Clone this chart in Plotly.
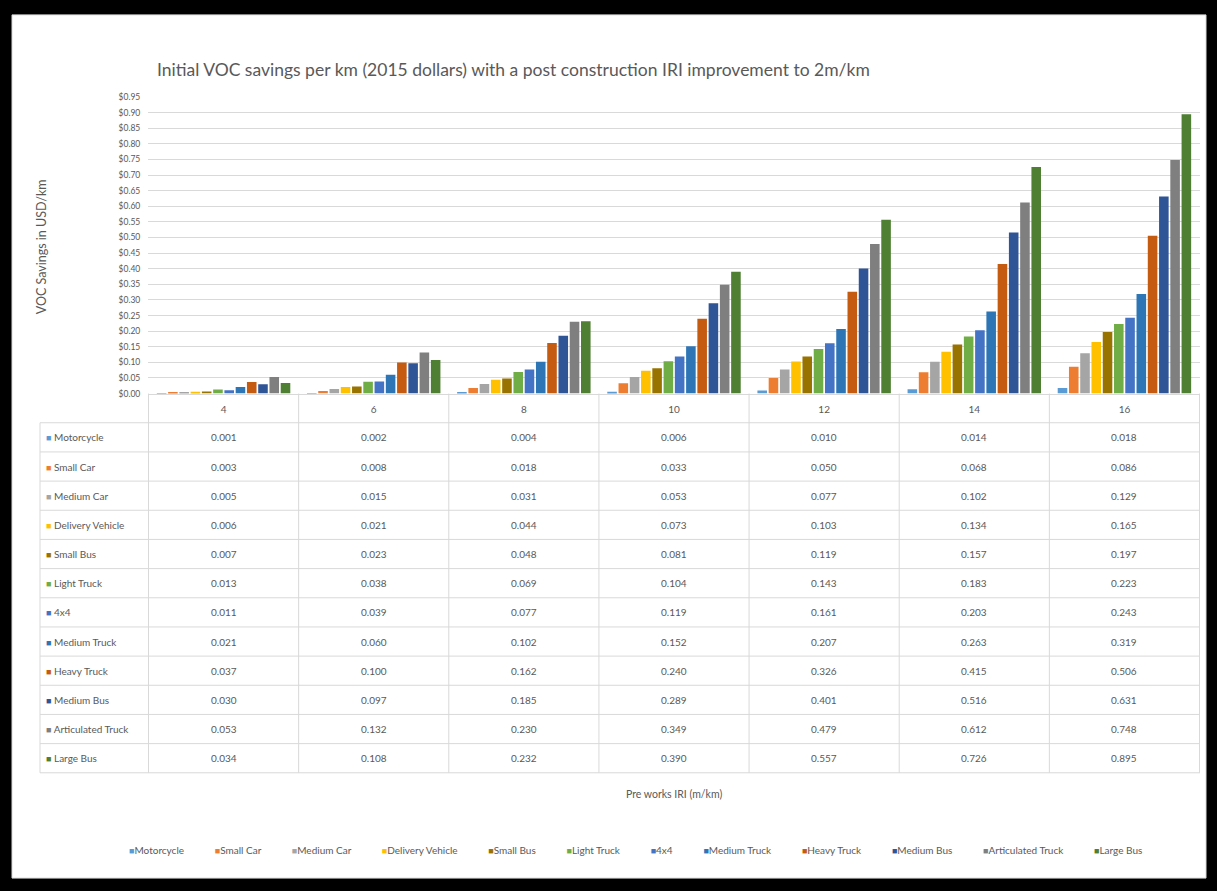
import plotly.graph_objects as go

W, H = 1217, 891

categories = ["4", "6", "8", "10", "12", "14", "16"]
vehicles = ["Motorcycle", "Small Car", "Medium Car", "Delivery Vehicle", "Small Bus",
            "Light Truck", "4x4", "Medium Truck", "Heavy Truck", "Medium Bus",
            "Articulated Truck", "Large Bus"]

motorcycle = [0.001, 0.002, 0.004, 0.006, 0.010, 0.014, 0.018]
small_car = [0.003, 0.008, 0.018, 0.033, 0.050, 0.068, 0.086]
medium_car = [0.005, 0.015, 0.031, 0.053, 0.077, 0.102, 0.129]
delivery_vehicle = [0.006, 0.021, 0.044, 0.073, 0.103, 0.134, 0.165]
small_bus = [0.007, 0.023, 0.048, 0.081, 0.119, 0.157, 0.197]
light_truck = [0.013, 0.038, 0.069, 0.104, 0.143, 0.183, 0.223]
four_x_four = [0.011, 0.039, 0.077, 0.119, 0.161, 0.203, 0.243]
medium_truck = [0.021, 0.060, 0.102, 0.152, 0.207, 0.263, 0.319]
heavy_truck = [0.037, 0.100, 0.162, 0.240, 0.326, 0.415, 0.506]
medium_bus = [0.030, 0.097, 0.185, 0.289, 0.401, 0.516, 0.631]
articulated_truck = [0.053, 0.132, 0.230, 0.349, 0.479, 0.612, 0.748]
large_bus = [0.034, 0.108, 0.232, 0.390, 0.557, 0.726, 0.895]

series = [motorcycle, small_car, medium_car, delivery_vehicle, small_bus, light_truck,
          four_x_four, medium_truck, heavy_truck, medium_bus, articulated_truck, large_bus]

colors = ["#5B9BD5", "#ED7D31", "#A5A5A5", "#FFC000", "#997300", "#70AD47",
          "#4472C4", "#2E75B6", "#C55A11", "#2F5597", "#7F7F7F", "#4E7F33"]

title_text = "Initial VOC savings per km (2015 dollars) with a post construction IRI improvement to 2m/km"
y_title = "VOC Savings in USD/km"
x_title = "Pre works IRI (m/km)"

FONT = "Lato"
GREY = "#595959"
LINE = "#D9D9D9"


def px(x):
    return x / W


def py(y):
    return 1 - y / H


fig = go.Figure()
for name, vals, col in zip(vehicles, series, colors):
    fig.add_trace(go.Bar(x=categories, y=vals, name=name, marker_color=col,
                         marker_line_width=0, showlegend=False))

shapes = []
# white chart area inside black frame
shapes.append(dict(type="rect", xref="paper", yref="paper", x0=px(12), x1=px(1206),
                   y0=py(883), y1=py(10), fillcolor="white", line=dict(color=LINE, width=1),
                   layer="below"))

# table geometry
row_top = 422.5
row_h = 29.5
table_left = 40
table_right = 1200
n_rows = len(vehicles)
for i in range(n_rows + 1):
    yy = row_top + i * row_h
    shapes.append(dict(type="line", xref="paper", yref="paper", x0=px(table_left), x1=px(table_right),
                       y0=py(yy), y1=py(yy), line=dict(color=LINE, width=1)))
for k in range(len(categories) + 1):
    xb = k - 0.5
    shapes.append(dict(type="line", xref="x", yref="paper", x0=xb, x1=xb,
                       y0=py(393), y1=py(row_top + n_rows * row_h), line=dict(color=LINE, width=1)))
shapes.append(dict(type="line", xref="paper", yref="paper", x0=px(table_left), x1=px(table_left),
                   y0=py(row_top), y1=py(row_top + n_rows * row_h), line=dict(color=LINE, width=1)))

annotations = []
annotations.append(dict(text=title_text, x=px(155), y=py(65), xref="paper", yref="paper",
                        xanchor="left", yanchor="middle", showarrow=False,
                        font=dict(family=FONT, size=17.5, color=GREY)))
annotations.append(dict(text=y_title, x=px(41), y=py(245), xref="paper", yref="paper",
                        xanchor="center", yanchor="middle", showarrow=False, textangle=-90,
                        font=dict(family=FONT, size=12.5, color=GREY)))
annotations.append(dict(text=x_title, x=px(674), y=py(798), xref="paper", yref="paper",
                        xanchor="center", yanchor="middle", showarrow=False,
                        font=dict(family=FONT, size=10.5, color=GREY)))

for i, (name, vals, col) in enumerate(zip(vehicles, series, colors)):
    yc = row_top + (i + 0.5) * row_h
    annotations.append(dict(
        text=f"<span style='color:{col};font-size:9px'>■</span> {name}",
        x=px(44), y=py(yc), xref="paper", yref="paper", xanchor="left", yanchor="middle",
        showarrow=False, font=dict(family=FONT, size=10, color=GREY)))
    for j, v in enumerate(vals):
        annotations.append(dict(text=f"{v:.3f}", x=j, y=py(yc), xref="x", yref="paper",
                                xanchor="center", yanchor="middle", showarrow=False,
                                font=dict(family=FONT, size=10, color=GREY)))

sep = "\u00a0" * 12
legend_text = sep.join(f"<span style='color:{c};font-size:9px'>■</span>{n}" for n, c in zip(vehicles, colors))
annotations.append(dict(text=legend_text, x=px(635), y=py(855), xref="paper", yref="paper",
                        xanchor="center", yanchor="middle", showarrow=False,
                        font=dict(family=FONT, size=10, color=GREY)))

fig.update_layout(
    width=W, height=H, autosize=False,
    margin=dict(l=0, r=0, t=0, b=0, pad=0),
    paper_bgcolor="black", plot_bgcolor="rgba(0,0,0,0)",
    barmode="group", bargap=0.1, bargroupgap=0.15,
    font=dict(family=FONT, color=GREY),
    showlegend=False,
    xaxis=dict(domain=[px(148), px(1200)], type="category", showgrid=False,
               showline=True, linecolor=LINE, linewidth=1, zeroline=False,
               ticks="outside", ticklen=6, tickcolor="rgba(0,0,0,0)",
               tickfont=dict(family=FONT, size=10, color=GREY), fixedrange=True),
    yaxis=dict(domain=[py(393), py(93)], range=[0, 0.9502], dtick=0.05, tick0=0,
               tickformat="$.2f", showgrid=True, gridcolor=LINE, gridwidth=1,
               zeroline=False, showline=False, ticks="outside", ticklen=5,
               tickcolor="rgba(0,0,0,0)",
               tickfont=dict(family=FONT, size=8.5, color=GREY), fixedrange=True),
    shapes=shapes,
    annotations=annotations,
)

fig.write_html("out.html", config={"displayModeBar": False},
               post_script="document.body.style.margin='0';document.body.style.overflow='hidden';")
